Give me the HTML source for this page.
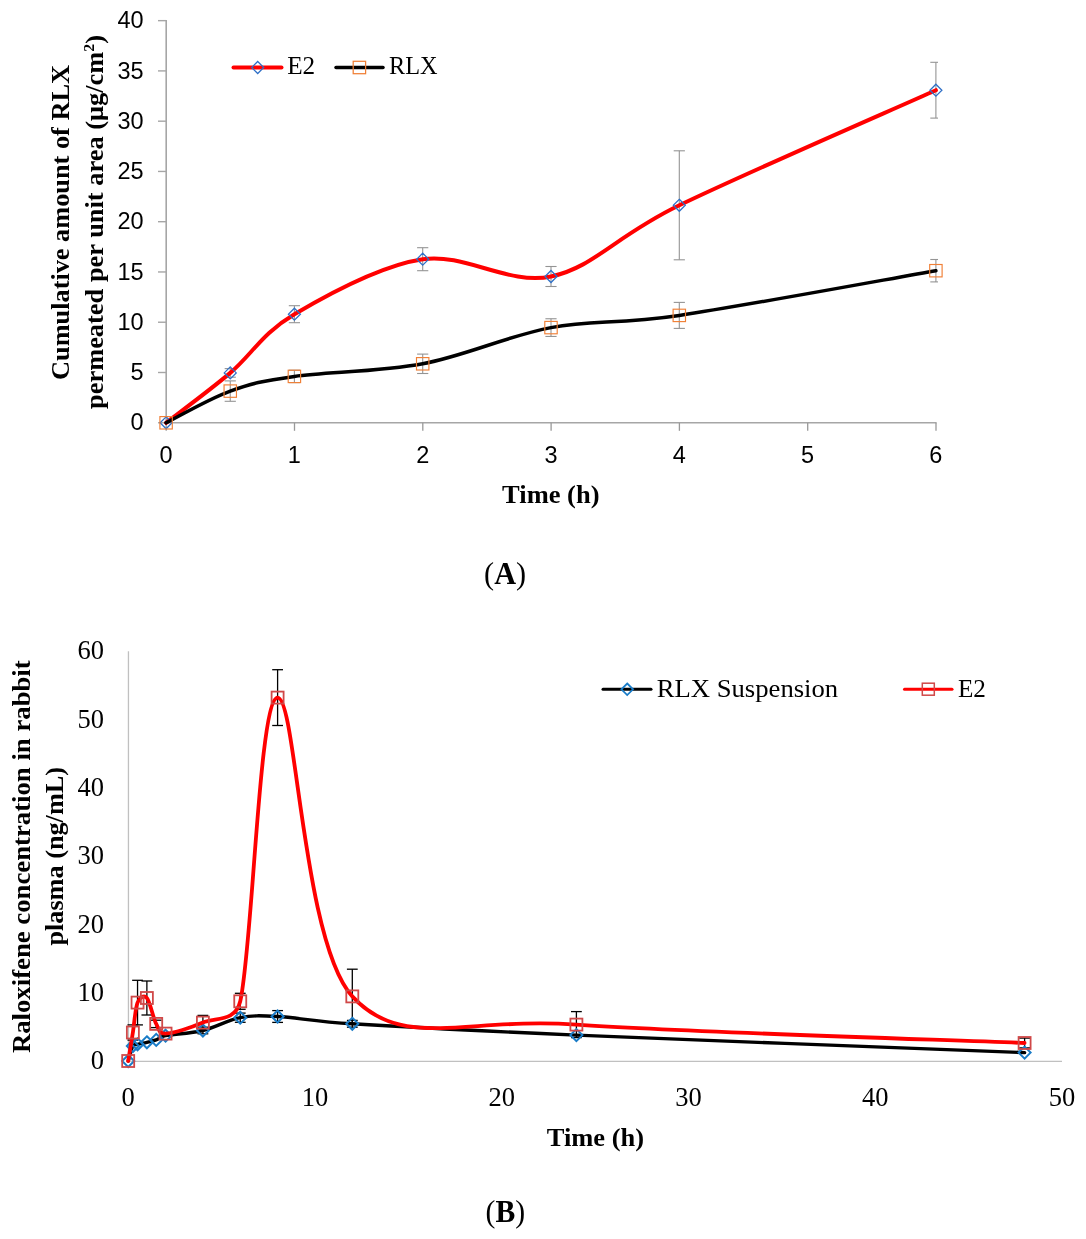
<!DOCTYPE html>
<html><head><meta charset="utf-8"><title>Figure</title>
<style>
html,body{margin:0;padding:0;background:#fff;}
svg{display:block;will-change:transform;}
.ta{font-family:"Liberation Sans",sans-serif;font-size:23.5px;fill:#000;}
.tb{font-family:"Liberation Serif",serif;font-size:26.5px;fill:#000;}
.lg{font-family:"Liberation Serif",serif;font-size:24.5px;fill:#000;}
.tt{font-family:"Liberation Serif",serif;font-size:25px;font-weight:bold;fill:#000;}
.cap{font-family:"Liberation Serif",serif;font-size:31.5px;fill:#000;}
</style></head><body>
<svg width="1086" height="1239" viewBox="0 0 1086 1239">
<rect width="1086" height="1239" fill="#fff"/>
<g id="chartA">
<line x1="166.2" y1="20.05" x2="166.2" y2="422.75" stroke="#a6a6a6" stroke-width="1.6"/>
<line x1="158" y1="422.75" x2="166.2" y2="422.75" stroke="#a6a6a6" stroke-width="1.4"/>
<text x="143.6" y="430.35" class="ta" text-anchor="end">0</text>
<line x1="158" y1="372.49" x2="166.2" y2="372.49" stroke="#a6a6a6" stroke-width="1.4"/>
<text x="143.6" y="380.09" class="ta" text-anchor="end">5</text>
<line x1="158" y1="322.23" x2="166.2" y2="322.23" stroke="#a6a6a6" stroke-width="1.4"/>
<text x="143.6" y="329.83" class="ta" text-anchor="end">10</text>
<line x1="158" y1="271.96" x2="166.2" y2="271.96" stroke="#a6a6a6" stroke-width="1.4"/>
<text x="143.6" y="279.56" class="ta" text-anchor="end">15</text>
<line x1="158" y1="221.70" x2="166.2" y2="221.70" stroke="#a6a6a6" stroke-width="1.4"/>
<text x="143.6" y="229.30" class="ta" text-anchor="end">20</text>
<line x1="158" y1="171.44" x2="166.2" y2="171.44" stroke="#a6a6a6" stroke-width="1.4"/>
<text x="143.6" y="179.04" class="ta" text-anchor="end">25</text>
<line x1="158" y1="121.18" x2="166.2" y2="121.18" stroke="#a6a6a6" stroke-width="1.4"/>
<text x="143.6" y="128.78" class="ta" text-anchor="end">30</text>
<line x1="158" y1="70.91" x2="166.2" y2="70.91" stroke="#a6a6a6" stroke-width="1.4"/>
<text x="143.6" y="78.51" class="ta" text-anchor="end">35</text>
<line x1="158" y1="20.65" x2="166.2" y2="20.65" stroke="#a6a6a6" stroke-width="1.4"/>
<text x="143.6" y="28.25" class="ta" text-anchor="end">40</text>
<line x1="165.4" y1="422.75" x2="936.60" y2="422.75" stroke="#a6a6a6" stroke-width="1.5"/>
<line x1="166.20" y1="422.75" x2="166.20" y2="430.8" stroke="#999999" stroke-width="1.3"/>
<text x="166.10" y="463.0" class="ta" text-anchor="middle">0</text>
<line x1="294.50" y1="422.75" x2="294.50" y2="430.8" stroke="#999999" stroke-width="1.3"/>
<text x="294.40" y="463.0" class="ta" text-anchor="middle">1</text>
<line x1="422.80" y1="422.75" x2="422.80" y2="430.8" stroke="#999999" stroke-width="1.3"/>
<text x="422.70" y="463.0" class="ta" text-anchor="middle">2</text>
<line x1="551.10" y1="422.75" x2="551.10" y2="430.8" stroke="#999999" stroke-width="1.3"/>
<text x="551.00" y="463.0" class="ta" text-anchor="middle">3</text>
<line x1="679.40" y1="422.75" x2="679.40" y2="430.8" stroke="#999999" stroke-width="1.3"/>
<text x="679.30" y="463.0" class="ta" text-anchor="middle">4</text>
<line x1="807.70" y1="422.75" x2="807.70" y2="430.8" stroke="#999999" stroke-width="1.3"/>
<text x="807.60" y="463.0" class="ta" text-anchor="middle">5</text>
<line x1="936.00" y1="422.75" x2="936.00" y2="430.8" stroke="#999999" stroke-width="1.3"/>
<text x="935.90" y="463.0" class="ta" text-anchor="middle">6</text>
<clipPath id="clipA"><rect x="100" y="0" width="838" height="440"/></clipPath>
<g clip-path="url(#clipA)">
<line x1="230.25" y1="368.60" x2="230.25" y2="377.20" stroke="#949494" stroke-width="1.1"/>
<line x1="224.65" y1="368.60" x2="235.85" y2="368.60" stroke="#949494" stroke-width="1.1"/>
<line x1="224.65" y1="377.20" x2="235.85" y2="377.20" stroke="#949494" stroke-width="1.1"/>
<line x1="294.40" y1="305.70" x2="294.40" y2="322.70" stroke="#949494" stroke-width="1.1"/>
<line x1="288.80" y1="305.70" x2="300.00" y2="305.70" stroke="#949494" stroke-width="1.1"/>
<line x1="288.80" y1="322.70" x2="300.00" y2="322.70" stroke="#949494" stroke-width="1.1"/>
<line x1="422.70" y1="247.70" x2="422.70" y2="270.70" stroke="#949494" stroke-width="1.1"/>
<line x1="417.10" y1="247.70" x2="428.30" y2="247.70" stroke="#949494" stroke-width="1.1"/>
<line x1="417.10" y1="270.70" x2="428.30" y2="270.70" stroke="#949494" stroke-width="1.1"/>
<line x1="551.00" y1="266.50" x2="551.00" y2="286.50" stroke="#949494" stroke-width="1.1"/>
<line x1="545.40" y1="266.50" x2="556.60" y2="266.50" stroke="#949494" stroke-width="1.1"/>
<line x1="545.40" y1="286.50" x2="556.60" y2="286.50" stroke="#949494" stroke-width="1.1"/>
<line x1="679.30" y1="150.80" x2="679.30" y2="259.80" stroke="#949494" stroke-width="1.1"/>
<line x1="673.70" y1="150.80" x2="684.90" y2="150.80" stroke="#949494" stroke-width="1.1"/>
<line x1="673.70" y1="259.80" x2="684.90" y2="259.80" stroke="#949494" stroke-width="1.1"/>
<line x1="935.90" y1="62.30" x2="935.90" y2="118.10" stroke="#949494" stroke-width="1.1"/>
<line x1="930.30" y1="62.30" x2="941.50" y2="62.30" stroke="#949494" stroke-width="1.1"/>
<line x1="930.30" y1="118.10" x2="941.50" y2="118.10" stroke="#949494" stroke-width="1.1"/>
<line x1="230.25" y1="380.90" x2="230.25" y2="401.30" stroke="#949494" stroke-width="1.1"/>
<line x1="224.65" y1="380.90" x2="235.85" y2="380.90" stroke="#949494" stroke-width="1.1"/>
<line x1="224.65" y1="401.30" x2="235.85" y2="401.30" stroke="#949494" stroke-width="1.1"/>
<line x1="294.40" y1="370.20" x2="294.40" y2="382.60" stroke="#949494" stroke-width="1.1"/>
<line x1="288.80" y1="370.20" x2="300.00" y2="370.20" stroke="#949494" stroke-width="1.1"/>
<line x1="288.80" y1="382.60" x2="300.00" y2="382.60" stroke="#949494" stroke-width="1.1"/>
<line x1="422.70" y1="354.10" x2="422.70" y2="373.50" stroke="#949494" stroke-width="1.1"/>
<line x1="417.10" y1="354.10" x2="428.30" y2="354.10" stroke="#949494" stroke-width="1.1"/>
<line x1="417.10" y1="373.50" x2="428.30" y2="373.50" stroke="#949494" stroke-width="1.1"/>
<line x1="551.00" y1="318.75" x2="551.00" y2="336.45" stroke="#949494" stroke-width="1.1"/>
<line x1="545.40" y1="318.75" x2="556.60" y2="318.75" stroke="#949494" stroke-width="1.1"/>
<line x1="545.40" y1="336.45" x2="556.60" y2="336.45" stroke="#949494" stroke-width="1.1"/>
<line x1="679.30" y1="302.40" x2="679.30" y2="328.40" stroke="#949494" stroke-width="1.1"/>
<line x1="673.70" y1="302.40" x2="684.90" y2="302.40" stroke="#949494" stroke-width="1.1"/>
<line x1="673.70" y1="328.40" x2="684.90" y2="328.40" stroke="#949494" stroke-width="1.1"/>
<line x1="935.90" y1="259.50" x2="935.90" y2="281.90" stroke="#949494" stroke-width="1.1"/>
<line x1="930.30" y1="259.50" x2="941.50" y2="259.50" stroke="#949494" stroke-width="1.1"/>
<line x1="930.30" y1="281.90" x2="941.50" y2="281.90" stroke="#949494" stroke-width="1.1"/>
</g>
<path d="M166.10,422.80 C176.79,414.48 208.87,391.00 230.25,372.90 C251.63,354.80 262.32,333.15 294.40,314.20 C326.47,295.25 379.93,265.48 422.70,259.20 C465.47,252.92 508.23,285.48 551.00,276.50 C593.77,267.52 615.15,236.35 679.30,205.30 C743.45,174.25 893.13,109.38 935.90,90.20" fill="none" stroke="#ff0000" stroke-width="4" stroke-linecap="round" stroke-linejoin="round"/>
<path d="M166.10,416.80 L172.10,422.80 L166.10,428.80 L160.10,422.80 Z" fill="none" stroke="#2e6fc6" stroke-width="1.25"/>
<path d="M230.25,366.90 L236.25,372.90 L230.25,378.90 L224.25,372.90 Z" fill="none" stroke="#2e6fc6" stroke-width="1.25"/>
<path d="M294.40,308.20 L300.40,314.20 L294.40,320.20 L288.40,314.20 Z" fill="none" stroke="#2e6fc6" stroke-width="1.25"/>
<path d="M422.70,253.20 L428.70,259.20 L422.70,265.20 L416.70,259.20 Z" fill="none" stroke="#2e6fc6" stroke-width="1.25"/>
<path d="M551.00,270.50 L557.00,276.50 L551.00,282.50 L545.00,276.50 Z" fill="none" stroke="#2e6fc6" stroke-width="1.25"/>
<path d="M679.30,199.30 L685.30,205.30 L679.30,211.30 L673.30,205.30 Z" fill="none" stroke="#2e6fc6" stroke-width="1.25"/>
<path d="M935.90,84.20 L941.90,90.20 L935.90,96.20 L929.90,90.20 Z" fill="none" stroke="#2e6fc6" stroke-width="1.25"/>
<path d="M166.10,422.80 C176.79,417.52 208.87,398.83 230.25,391.10 C251.63,383.37 262.32,380.95 294.40,376.40 C326.47,371.85 379.93,371.93 422.70,363.80 C465.47,355.67 508.23,335.67 551.00,327.60 C593.77,319.53 615.55,324.82 679.30,315.40 C743.45,305.92 893.13,278.15 935.90,270.70" fill="none" stroke="#000000" stroke-width="3.5" stroke-linecap="round" stroke-linejoin="round"/>
<rect x="159.90" y="416.60" width="12.40" height="12.40" fill="none" stroke="#f07f35" stroke-width="1.15"/>
<rect x="224.05" y="384.90" width="12.40" height="12.40" fill="none" stroke="#f07f35" stroke-width="1.15"/>
<rect x="288.20" y="370.20" width="12.40" height="12.40" fill="none" stroke="#f07f35" stroke-width="1.15"/>
<rect x="416.50" y="357.60" width="12.40" height="12.40" fill="none" stroke="#f07f35" stroke-width="1.15"/>
<rect x="544.80" y="321.40" width="12.40" height="12.40" fill="none" stroke="#f07f35" stroke-width="1.15"/>
<rect x="673.10" y="309.20" width="12.40" height="12.40" fill="none" stroke="#f07f35" stroke-width="1.15"/>
<rect x="929.70" y="264.50" width="12.40" height="12.40" fill="none" stroke="#f07f35" stroke-width="1.15"/>
<line x1="233.5" y1="67.5" x2="281.5" y2="67.5" stroke="#ff0000" stroke-width="4" stroke-linecap="round"/>
<path d="M257.70,61.50 L263.70,67.50 L257.70,73.50 L251.70,67.50 Z" fill="none" stroke="#2e6fc6" stroke-width="1.25"/>
<text x="287.2" y="74.2" class="lg" textLength="28" lengthAdjust="spacingAndGlyphs">E2</text>
<line x1="336" y1="67.5" x2="383" y2="67.5" stroke="#000000" stroke-width="3.5" stroke-linecap="round"/>
<rect x="353.20" y="61.30" width="12.40" height="12.40" fill="none" stroke="#f07f35" stroke-width="1.25"/>
<text x="389" y="74.2" class="lg" textLength="48.5" lengthAdjust="spacingAndGlyphs">RLX</text>
<text x="502.1" y="502.9" class="tt" textLength="97.4" lengthAdjust="spacingAndGlyphs">Time (h)</text>
<text transform="translate(68.9,380) rotate(-90)" x="0" y="0" class="tt" textLength="315" lengthAdjust="spacingAndGlyphs">Cumulative amount of RLX</text>
<text transform="translate(103,409) rotate(-90)" x="0" y="0" class="tt" textLength="374" lengthAdjust="spacingAndGlyphs">permeated per unit area (μg/cm<tspan dy="-9" font-size="15">2</tspan><tspan dy="9">)</tspan></text>
</g>
<text x="484.1" y="584.1" class="cap" textLength="42" lengthAdjust="spacingAndGlyphs">(<tspan font-weight="bold">A</tspan>)</text>
<g id="chartB">
<line x1="128.45" y1="651.2" x2="128.45" y2="1061" stroke="#c0c0c0" stroke-width="1.3"/>
<line x1="127.8" y1="1061.35" x2="1062" y2="1061.35" stroke="#c0c0c0" stroke-width="1.4"/>
<text x="104" y="1069.25" class="tb" text-anchor="end">0</text>
<text x="104" y="1000.90" class="tb" text-anchor="end">10</text>
<text x="104" y="932.55" class="tb" text-anchor="end">20</text>
<text x="104" y="864.20" class="tb" text-anchor="end">30</text>
<text x="104" y="795.85" class="tb" text-anchor="end">40</text>
<text x="104" y="727.50" class="tb" text-anchor="end">50</text>
<text x="104" y="659.15" class="tb" text-anchor="end">60</text>
<text x="128.20" y="1105.8" class="tb" text-anchor="middle">0</text>
<text x="314.95" y="1105.8" class="tb" text-anchor="middle">10</text>
<text x="501.70" y="1105.8" class="tb" text-anchor="middle">20</text>
<text x="688.45" y="1105.8" class="tb" text-anchor="middle">30</text>
<text x="875.20" y="1105.8" class="tb" text-anchor="middle">40</text>
<text x="1061.95" y="1105.8" class="tb" text-anchor="middle">50</text>
<line x1="202.90" y1="1027.20" x2="202.90" y2="1033.80" stroke="#000" stroke-width="1.3"/>
<line x1="197.50" y1="1027.20" x2="208.30" y2="1027.20" stroke="#000" stroke-width="1.3"/>
<line x1="197.50" y1="1033.80" x2="208.30" y2="1033.80" stroke="#000" stroke-width="1.3"/>
<line x1="240.25" y1="1013.10" x2="240.25" y2="1022.30" stroke="#000" stroke-width="1.3"/>
<line x1="234.85" y1="1013.10" x2="245.65" y2="1013.10" stroke="#000" stroke-width="1.3"/>
<line x1="234.85" y1="1022.30" x2="245.65" y2="1022.30" stroke="#000" stroke-width="1.3"/>
<line x1="277.60" y1="1010.60" x2="277.60" y2="1022.40" stroke="#000" stroke-width="1.3"/>
<line x1="272.20" y1="1010.60" x2="283.00" y2="1010.60" stroke="#000" stroke-width="1.3"/>
<line x1="272.20" y1="1022.40" x2="283.00" y2="1022.40" stroke="#000" stroke-width="1.3"/>
<line x1="352.30" y1="1020.40" x2="352.30" y2="1027.20" stroke="#000" stroke-width="1.3"/>
<line x1="346.90" y1="1020.40" x2="357.70" y2="1020.40" stroke="#000" stroke-width="1.3"/>
<line x1="346.90" y1="1027.20" x2="357.70" y2="1027.20" stroke="#000" stroke-width="1.3"/>
<line x1="132.87" y1="1024.90" x2="132.87" y2="1040.10" stroke="#000" stroke-width="1.3"/>
<line x1="127.47" y1="1024.90" x2="138.27" y2="1024.90" stroke="#000" stroke-width="1.3"/>
<line x1="127.47" y1="1040.10" x2="138.27" y2="1040.10" stroke="#000" stroke-width="1.3"/>
<line x1="137.54" y1="980.30" x2="137.54" y2="1024.90" stroke="#000" stroke-width="1.3"/>
<line x1="132.14" y1="980.30" x2="142.94" y2="980.30" stroke="#000" stroke-width="1.3"/>
<line x1="132.14" y1="1024.90" x2="142.94" y2="1024.90" stroke="#000" stroke-width="1.3"/>
<line x1="146.88" y1="981.00" x2="146.88" y2="1015.00" stroke="#000" stroke-width="1.3"/>
<line x1="141.47" y1="981.00" x2="152.28" y2="981.00" stroke="#000" stroke-width="1.3"/>
<line x1="141.47" y1="1015.00" x2="152.28" y2="1015.00" stroke="#000" stroke-width="1.3"/>
<line x1="156.21" y1="1020.20" x2="156.21" y2="1027.60" stroke="#000" stroke-width="1.3"/>
<line x1="150.81" y1="1020.20" x2="161.61" y2="1020.20" stroke="#000" stroke-width="1.3"/>
<line x1="150.81" y1="1027.60" x2="161.61" y2="1027.60" stroke="#000" stroke-width="1.3"/>
<line x1="202.90" y1="1015.40" x2="202.90" y2="1029.80" stroke="#000" stroke-width="1.3"/>
<line x1="197.50" y1="1015.40" x2="208.30" y2="1015.40" stroke="#000" stroke-width="1.3"/>
<line x1="197.50" y1="1029.80" x2="208.30" y2="1029.80" stroke="#000" stroke-width="1.3"/>
<line x1="240.25" y1="993.30" x2="240.25" y2="1009.30" stroke="#000" stroke-width="1.3"/>
<line x1="234.85" y1="993.30" x2="245.65" y2="993.30" stroke="#000" stroke-width="1.3"/>
<line x1="234.85" y1="1009.30" x2="245.65" y2="1009.30" stroke="#000" stroke-width="1.3"/>
<line x1="277.60" y1="669.70" x2="277.60" y2="725.50" stroke="#000" stroke-width="1.3"/>
<line x1="272.20" y1="669.70" x2="283.00" y2="669.70" stroke="#000" stroke-width="1.3"/>
<line x1="272.20" y1="725.50" x2="283.00" y2="725.50" stroke="#000" stroke-width="1.3"/>
<line x1="352.30" y1="969.20" x2="352.30" y2="1023.60" stroke="#000" stroke-width="1.3"/>
<line x1="346.90" y1="969.20" x2="357.70" y2="969.20" stroke="#000" stroke-width="1.3"/>
<line x1="346.90" y1="1023.60" x2="357.70" y2="1023.60" stroke="#000" stroke-width="1.3"/>
<line x1="576.40" y1="1011.60" x2="576.40" y2="1037.60" stroke="#000" stroke-width="1.3"/>
<line x1="571.00" y1="1011.60" x2="581.80" y2="1011.60" stroke="#000" stroke-width="1.3"/>
<line x1="571.00" y1="1037.60" x2="581.80" y2="1037.60" stroke="#000" stroke-width="1.3"/>
<line x1="1024.60" y1="1038.10" x2="1024.60" y2="1047.90" stroke="#000" stroke-width="1.3"/>
<line x1="1019.20" y1="1038.10" x2="1030.00" y2="1038.10" stroke="#000" stroke-width="1.3"/>
<line x1="1019.20" y1="1047.90" x2="1030.00" y2="1047.90" stroke="#000" stroke-width="1.3"/>
<path d="M128.20,1061.00 C128.98,1058.50 131.31,1048.78 132.87,1046.00 C134.08,1043.83 135.20,1044.92 137.54,1044.30 C139.87,1043.68 143.76,1043.03 146.88,1042.30 C149.99,1041.57 153.10,1041.00 156.21,1039.90 C159.32,1038.80 160.53,1036.71 165.55,1035.70 C173.33,1034.13 190.45,1033.50 202.90,1030.50 C215.35,1027.50 227.80,1020.03 240.25,1017.70 C252.70,1015.37 258.94,1015.48 277.60,1016.50 C296.28,1017.52 314.84,1021.47 352.30,1023.80 C402.10,1026.90 464.35,1030.30 576.40,1035.10 C688.45,1039.90 949.90,1049.68 1024.60,1052.60" fill="none" stroke="#000000" stroke-width="3.4" stroke-linecap="round" stroke-linejoin="round"/>
<path d="M128.20,1055.00 L134.20,1061.00 L128.20,1067.00 L122.20,1061.00 Z" fill="none" stroke="#1a7cc7" stroke-width="2"/>
<path d="M132.87,1040.00 L138.87,1046.00 L132.87,1052.00 L126.87,1046.00 Z" fill="none" stroke="#1a7cc7" stroke-width="2"/>
<path d="M137.54,1038.30 L143.54,1044.30 L137.54,1050.30 L131.54,1044.30 Z" fill="none" stroke="#1a7cc7" stroke-width="2"/>
<path d="M146.88,1036.30 L152.88,1042.30 L146.88,1048.30 L140.88,1042.30 Z" fill="none" stroke="#1a7cc7" stroke-width="2"/>
<path d="M156.21,1033.90 L162.21,1039.90 L156.21,1045.90 L150.21,1039.90 Z" fill="none" stroke="#1a7cc7" stroke-width="2"/>
<path d="M165.55,1029.70 L171.55,1035.70 L165.55,1041.70 L159.55,1035.70 Z" fill="none" stroke="#1a7cc7" stroke-width="2"/>
<path d="M202.90,1024.50 L208.90,1030.50 L202.90,1036.50 L196.90,1030.50 Z" fill="none" stroke="#1a7cc7" stroke-width="2"/>
<path d="M240.25,1011.70 L246.25,1017.70 L240.25,1023.70 L234.25,1017.70 Z" fill="none" stroke="#1a7cc7" stroke-width="2"/>
<path d="M277.60,1010.50 L283.60,1016.50 L277.60,1022.50 L271.60,1016.50 Z" fill="none" stroke="#1a7cc7" stroke-width="2"/>
<path d="M352.30,1017.80 L358.30,1023.80 L352.30,1029.80 L346.30,1023.80 Z" fill="none" stroke="#1a7cc7" stroke-width="2"/>
<path d="M576.40,1029.10 L582.40,1035.10 L576.40,1041.10 L570.40,1035.10 Z" fill="none" stroke="#1a7cc7" stroke-width="2"/>
<path d="M1024.60,1046.60 L1030.60,1052.60 L1024.60,1058.60 L1018.60,1052.60 Z" fill="none" stroke="#1a7cc7" stroke-width="2"/>
<path d="M128.20,1061.00 C128.98,1056.25 131.31,1042.23 132.87,1032.50 C134.42,1022.77 135.20,1008.35 137.54,1002.60 C139.50,997.78 143.76,994.45 146.88,998.00 C149.99,1001.55 153.10,1017.97 156.21,1023.90 C159.32,1029.83 158.82,1033.79 165.55,1033.60 C173.33,1033.38 190.45,1027.98 202.90,1022.60 C215.35,1017.22 235.43,1022.25 240.25,1001.30 C252.70,947.13 258.93,698.42 277.60,697.60 C296.28,696.78 302.50,941.90 352.30,996.40 C402.10,1050.90 464.35,1016.83 576.40,1024.60 C688.45,1032.37 949.90,1039.93 1024.60,1043.00" fill="none" stroke="#ff0000" stroke-width="3.8" stroke-linecap="round" stroke-linejoin="round"/>
<rect x="122.20" y="1055.00" width="12.00" height="12.00" fill="none" stroke="#d04848" stroke-width="1.8"/>
<rect x="126.87" y="1026.50" width="12.00" height="12.00" fill="none" stroke="#d04848" stroke-width="1.8"/>
<rect x="131.54" y="996.60" width="12.00" height="12.00" fill="none" stroke="#d04848" stroke-width="1.8"/>
<rect x="140.88" y="992.00" width="12.00" height="12.00" fill="none" stroke="#d04848" stroke-width="1.8"/>
<rect x="150.21" y="1017.90" width="12.00" height="12.00" fill="none" stroke="#d04848" stroke-width="1.8"/>
<rect x="159.55" y="1027.60" width="12.00" height="12.00" fill="none" stroke="#d04848" stroke-width="1.8"/>
<rect x="196.90" y="1016.60" width="12.00" height="12.00" fill="none" stroke="#d04848" stroke-width="1.8"/>
<rect x="234.25" y="995.30" width="12.00" height="12.00" fill="none" stroke="#d04848" stroke-width="1.8"/>
<rect x="271.60" y="691.60" width="12.00" height="12.00" fill="none" stroke="#d04848" stroke-width="1.8"/>
<rect x="346.30" y="990.40" width="12.00" height="12.00" fill="none" stroke="#d04848" stroke-width="1.8"/>
<rect x="570.40" y="1018.60" width="12.00" height="12.00" fill="none" stroke="#d04848" stroke-width="1.8"/>
<rect x="1018.60" y="1037.00" width="12.00" height="12.00" fill="none" stroke="#d04848" stroke-width="1.8"/>
<line x1="603" y1="689.3" x2="651" y2="689.3" stroke="#000" stroke-width="3" stroke-linecap="round"/>
<path d="M627.20,683.50 L633.00,689.30 L627.20,695.10 L621.40,689.30 Z" fill="none" stroke="#1a7cc7" stroke-width="1.8"/>
<text x="656.7" y="696.6" class="lg" textLength="181.5" lengthAdjust="spacingAndGlyphs">RLX Suspension</text>
<line x1="904.5" y1="689.2" x2="952" y2="689.2" stroke="#ff0000" stroke-width="3" stroke-linecap="round"/>
<rect x="922.30" y="683.20" width="12.00" height="12.00" fill="none" stroke="#d04848" stroke-width="1.5"/>
<text x="957.9" y="696.7" class="lg" textLength="28" lengthAdjust="spacingAndGlyphs">E2</text>
<text x="546.8" y="1145.9" class="tt" textLength="97.3" lengthAdjust="spacingAndGlyphs">Time (h)</text>
<text transform="translate(29.6,1053.1) rotate(-90)" x="0" y="0" class="tt" textLength="392.8" lengthAdjust="spacingAndGlyphs">Raloxifene concentration in rabbit</text>
<text transform="translate(62.7,945.6) rotate(-90)" x="0" y="0" class="tt" textLength="178.6" lengthAdjust="spacingAndGlyphs">plasma (ng/mL)</text>
</g>
<text x="485.6" y="1221.9" class="cap" textLength="39.6" lengthAdjust="spacingAndGlyphs">(<tspan font-weight="bold">B</tspan>)</text>
</svg>
</body></html>
